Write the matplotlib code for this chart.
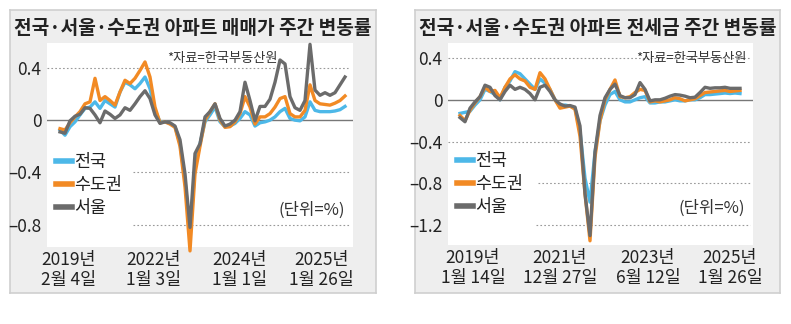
import numpy as np
import matplotlib.pyplot as plt

plt.rcParams['font.family'] = ['Noto Sans CJK KR', 'DejaVu Sans']

# ---- 매매가 (left) : weekly change, %
sale_nation = [-0.075, -0.115, -0.05, -0.013, 0.04, 0.09, 0.10, 0.14, 0.09, 0.15,
               0.125, 0.10, 0.215, 0.29, 0.27, 0.24, 0.28, 0.33, 0.24, 0.075,
               -0.013, -0.013, -0.025, -0.05, -0.18, -0.46, -0.87, -0.36, -0.18, -0.013,
               0.04, 0.10, -0.013, -0.05, -0.045, -0.025, 0.013, 0.065, 0.04, -0.045,
               -0.02, -0.013, 0.0, 0.025, 0.065, 0.09, 0.013, 0.0, -0.005, 0.025,
               0.14, 0.075, 0.065, 0.065, 0.065, 0.07, 0.08, 0.105]
sale_capital = [-0.065, -0.075, -0.02, 0.025, 0.065, 0.125, 0.14, 0.32, 0.15, 0.18,
                0.15, 0.115, 0.215, 0.305, 0.28, 0.32, 0.38, 0.445, 0.33, 0.10,
                -0.02, -0.013, -0.03, -0.055, -0.20, -0.51, -1.0, -0.41, -0.20, 0.0,
                0.065, 0.125, 0.0, -0.055, -0.05, -0.013, 0.05, 0.18, 0.10, -0.03,
                0.025, 0.025, 0.05, 0.10, 0.165, 0.18, 0.05, 0.025, 0.025, 0.075,
                0.27, 0.15, 0.125, 0.12, 0.115, 0.13, 0.15, 0.185]
sale_seoul = [-0.09, -0.10, -0.005, 0.03, 0.045, 0.095, 0.09, 0.04, -0.02, 0.07,
              0.045, 0.013, 0.04, 0.095, 0.075, 0.125, 0.18, 0.225, 0.165, 0.04,
              -0.025, -0.013, -0.02, -0.045, -0.15, -0.41, -0.82, -0.255, -0.18, 0.025,
              0.065, 0.125, 0.013, -0.045, -0.03, 0.0, 0.065, 0.29, 0.15, -0.005,
              0.105, 0.105, 0.16, 0.29, 0.46, 0.43, 0.18, 0.095, 0.075, 0.15,
              0.58, 0.23, 0.19, 0.21, 0.19, 0.21, 0.27, 0.33]
sale_tick_pos = [1.7, 18.7, 36.0, 52.3]
sale_tick_labels = ['2019년\n2월 4일', '2022년\n1월 3일', '2024년\n1월 1일', '2025년\n1월 26일']

# ---- 전세금 (right)
rent_nation = [-0.13, -0.12, -0.11, -0.05, 0.0, 0.10, 0.08, 0.05, 0.0, 0.12,
               0.18, 0.27, 0.25, 0.20, 0.15, 0.10, 0.20, 0.16, 0.10, 0.0,
               -0.06, -0.05, -0.06, -0.08, -0.30, -0.75, -0.98, -0.50, -0.20, -0.05,
               0.05, 0.08, 0.0, -0.02, -0.02, 0.0, 0.02, 0.03, -0.03, -0.03,
               -0.02, -0.02, -0.01, 0.0, -0.01, -0.01, 0.0, 0.0, 0.02, 0.05,
               0.05, 0.055, 0.06, 0.065, 0.06, 0.065, 0.06]
rent_capital = [-0.15, -0.20, -0.10, -0.03, 0.03, 0.12, 0.08, 0.09, 0.02, 0.12,
                0.20, 0.24, 0.20, 0.18, 0.12, 0.10, 0.26, 0.20, 0.10, 0.0,
                -0.08, -0.07, -0.06, -0.09, -0.35, -0.90, -1.35, -0.55, -0.20, 0.0,
                0.10, 0.19, 0.03, 0.02, 0.03, 0.07, 0.10, 0.09, -0.02, -0.01,
                -0.02, -0.01, 0.0, 0.02, 0.01, -0.01, 0.0, 0.01, 0.04, 0.07,
                0.075, 0.08, 0.085, 0.09, 0.08, 0.085, 0.09]
rent_seoul = [-0.17, -0.21, -0.08, -0.02, 0.03, 0.14, 0.12, 0.04, 0.0, 0.08,
              0.14, 0.10, 0.12, 0.10, 0.06, 0.0, 0.12, 0.14, 0.08, 0.0,
              -0.04, -0.06, -0.055, -0.07, -0.25, -0.90, -1.30, -0.50, -0.15, 0.02,
              0.10, 0.15, 0.04, 0.02, 0.02, 0.05, 0.165, 0.10, -0.01, 0.0,
              0.0, 0.015, 0.035, 0.05, 0.045, 0.035, 0.02, 0.025, 0.07, 0.12,
              0.11, 0.115, 0.115, 0.12, 0.11, 0.11, 0.11]
rent_tick_pos = [2.6, 20.0, 37.6, 54.0]
rent_tick_labels = ['2019년\n1월 14일', '2021년\n12월 27일', '2023년\n6월 12일', '2025년\n1월 26일']

names = ['전국', '수도권', '서울']
colors = ['#4db8e8', '#f28a24', '#6b6b6b']

W, H = 791, 324
fig = plt.figure(figsize=(W / 100, H / 100), dpi=100)

def px(x0, y0, x1, y1):
    # pixel box (top-left origin) -> figure fraction
    return [x0 / W, 1 - y1 / H, (x1 - x0) / W, (y1 - y0) / H]

def panel(box, axbox, title, series, ylim, yticks, grids, tick_pos, tick_labels, xlim, src_x):
    bg = fig.add_axes(px(*box))
    bg.set_xticks([]); bg.set_yticks([])
    bg.set_facecolor('#eeeeee')
    for s in bg.spines.values():
        s.set_color('#cfcfcf')
        s.set_linewidth(1.2)
    bg.text(0.5, 0.935, title, transform=bg.transAxes, ha='center', va='center',
            fontsize=13.8, fontweight='bold', color='#222222')

    ax = fig.add_axes(px(*axbox))
    ax.set_facecolor('white')
    for s in ax.spines.values():
        s.set_visible(False)
    x = np.arange(len(series[0]))
    for vals, name, c in zip(series, names, colors):
        ax.plot(x, vals, color=c, lw=2.4, label=name, clip_on=False, solid_joinstyle='round')
    ax.axhline(0, color='#777777', lw=1.0, zorder=1)
    for yv, x0 in grids:
        ax.axhline(yv, xmin=x0, xmax=0.99, color='#999999', lw=0.8, ls=(0, (1.5, 2)), zorder=0)
    ax.set_xlim(*xlim)
    ax.set_ylim(*ylim)
    ax.set_yticks(yticks)
    ax.set_yticklabels([('0' if v == 0 else f'{v:.1f}'.replace('-', '\u2013')) for v in yticks])
    ax.set_xticks(tick_pos)
    ax.set_xticklabels(tick_labels, linespacing=1.12)
    ax.tick_params(length=0, labelsize=12.5, colors='#222222')
    ax.tick_params(axis='y', pad=4)
    ax.tick_params(axis='x', pad=3)

    ax.text(src_x, 0.925, '*자료=한국부동산원', transform=ax.transAxes, ha='right', va='center',
            fontsize=9.5, color='#333333')
    ax.text(0.975, 0.18, '(단위=%)', transform=ax.transAxes, ha='right', va='center',
            fontsize=12, color='#333333')
    leg = ax.legend(loc='upper left', bbox_to_anchor=(0.028, 0.46), frameon=False,
                    fontsize=12.5, handlelength=0.95, handletextpad=0.1,
                    labelspacing=0.28, borderpad=0, borderaxespad=0)
    for h in leg.get_lines():
        h.set_linewidth(4)
    for t in leg.get_texts():
        t.set_color('#222222')
    return ax

panel((10, 10, 376, 293), (47, 43, 353, 247), '전국·서울·수도권 아파트 매매가 주간 변동률',
      [sale_nation, sale_capital, sale_seoul], (-0.97, 0.59), [0.4, 0, -0.4, -0.8],
      [(0.4, 0.0), (-0.4, 0.28), (-0.8, 0.28)], sale_tick_pos, sale_tick_labels, (-2.6, 58.6), 0.755)

panel((415, 10, 780, 293), (448, 43, 753, 245), '전국·서울·수도권 아파트 전세금 주간 변동률',
      [rent_nation, rent_capital, rent_seoul], (-1.39, 0.544), [0.4, 0, -0.4, -0.8, -1.2],
      [(0.4, 0.0), (-0.4, 0.0), (-0.8, 0.295), (-1.2, 0.29)], rent_tick_pos, rent_tick_labels, (-2.4, 58.6), 0.98)

fig.savefig('out.png', dpi=100, facecolor='white')
